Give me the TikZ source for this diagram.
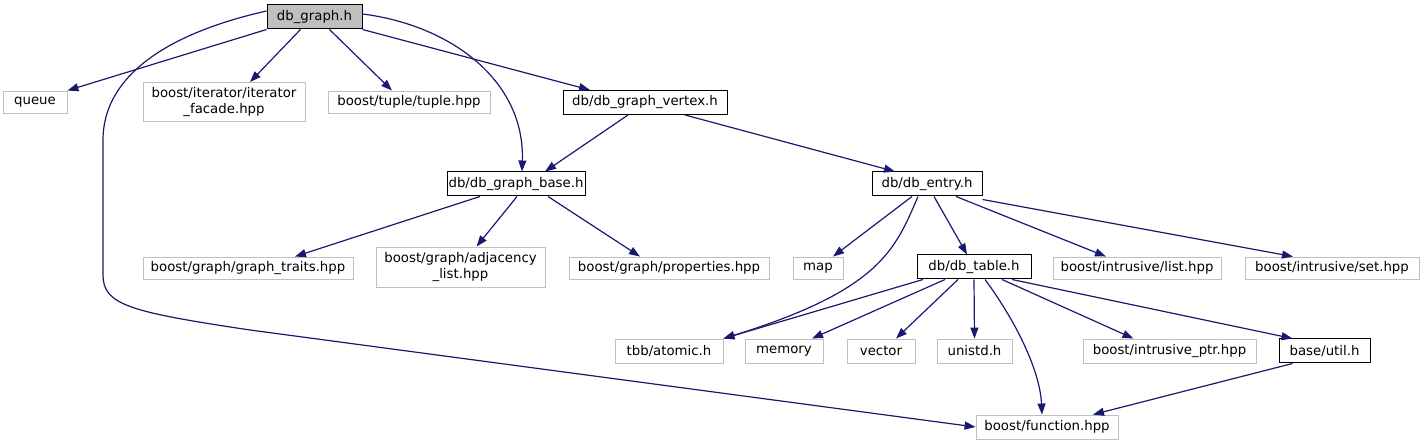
\documentclass[tikz,border=0pt]{standalone}
\usepackage{fontspec}
\setmainfont{DejaVu Sans}
\usetikzlibrary{arrows.meta}
\definecolor{edgeblue}{HTML}{191970}
\definecolor{boxgray}{HTML}{BFBFBF}
\tikzset{
  inc/.style={draw=boxgray,line width=0.9pt,inner sep=0pt,minimum height=22pt,
    align=center,font=\fontsize{13.3}{15.5}\selectfont},
  own/.style={inc,draw=black,line width=1pt,minimum height=24pt},
  dep/.style={draw=edgeblue,line width=1.2pt,-{Triangle[length=11pt,width=8pt]}}
}
\begin{document}
\begin{tikzpicture}[x=1pt,y=-1pt]
 \useasboundingbox (0,0) rectangle (1424,443);
 % files
 \node[own,fill=boxgray,minimum width=95pt] (graph) at (314.5,17) {db\_graph.h};
 \node[inc,minimum width=64pt] (queue) at (35,102) {queue};
 \node[inc,minimum width=162pt,minimum height=39pt] (facade) at (224,102) {boost/iterator/iterator\\\_facade.hpp};
 \node[inc,minimum width=162pt] (tuple) at (409,102) {boost/tuple/tuple.hpp};
 \node[own,minimum width=164pt] (vertex) at (645,102.5) {db/db\_graph\_vertex.h};
 \node[own,minimum width=138pt] (base) at (516,184) {db/db\_graph\_base.h};
 \node[own,minimum width=110pt] (entry) at (927,184) {db/db\_entry.h};
 \node[inc,minimum width=210pt] (traits) at (248,268) {boost/graph/graph\_traits.hpp};
 \node[inc,minimum width=169pt,minimum height=40pt] (adjlist) at (460.5,267) {boost/graph/adjacency\\\_list.hpp};
 \node[inc,minimum width=200pt] (props) at (669,268) {boost/graph/properties.hpp};
 \node[inc,minimum width=50pt] (map) at (818,268) {map};
 \node[own,minimum width=114pt] (table) at (974,267) {db/db\_table.h};
 \node[inc,minimum width=168pt] (ilist) at (1137,268) {boost/intrusive/list.hpp};
 \node[inc,minimum width=174pt] (iset) at (1332,268) {boost/intrusive/set.hpp};
 \node[inc,minimum width=108pt,minimum height=24pt] (atomic) at (669,351) {tbb/atomic.h};
 \node[inc,minimum width=78pt,minimum height=24pt] (memory) at (784,351) {memory};
 \node[inc,minimum width=68pt,minimum height=24pt] (vector) at (881,351) {vector};
 \node[inc,minimum width=75pt,minimum height=24pt] (unistd) at (974.5,351) {unistd.h};
 \node[inc,minimum width=173pt,minimum height=24pt] (iptr) at (1169.5,351) {boost/intrusive\_ptr.hpp};
 \node[own,minimum width=91pt] (util) at (1324.5,351) {base/util.h};
 \node[inc,minimum width=142pt,minimum height=24pt] (function) at (1047,427) {boost/function.hpp};
 % includes of db_graph.h
 \draw[dep] (graph.south west) -- (queue.north east);
 \draw[dep] ([xshift=-14pt]graph.south) -- ([xshift=26pt]facade.north);
 \draw[dep] ([xshift=15pt]graph.south) -- ([xshift=-17pt]tuple.north);
 \draw[dep] (graph.south east) -- ([xshift=-55pt]vertex.north);
 \draw[dep] ([yshift=3pt]graph.east) .. controls (450,25) and (525,80) .. ([xshift=6pt]base.north);
 \draw[dep] ([yshift=6pt]graph.west) .. controls (160,35) and (103,80) .. (103,140)
   -- (103,275) .. controls (103,305) and (130,312) .. (250,330) -- (function.west);
 % vertex and base
 \draw[dep] ([xshift=-17pt]vertex.south) -- ([xshift=29pt]base.north);
 \draw[dep] ([xshift=40pt]vertex.south) -- ([xshift=-32pt]entry.north);
 \draw[dep] ([xshift=-36pt]base.south) -- ([xshift=47pt]traits.north);
 \draw[dep] ([xshift=1pt]base.south) -- ([xshift=16pt]adjlist.north);
 \draw[dep] ([xshift=32pt]base.south) -- ([xshift=-29pt]props.north);
 % entry
 \draw[dep] ([xshift=-15pt]entry.south) -- ([xshift=15pt]map.north);
 \draw[dep] ([xshift=-9pt]entry.south) .. controls (895,250) and (880,290) .. (atomic.north east);
 \draw[dep] ([xshift=7pt]entry.south) -- ([xshift=-7pt]table.north);
 \draw[dep] ([xshift=29pt]entry.south) -- ([xshift=-31pt]ilist.north);
 \draw[dep] ([yshift=-3pt]entry.south east) -- ([xshift=-39pt]iset.north);
 % table
 \draw[dep] ([xshift=-51pt]table.south) -- (atomic.north east);
 \draw[dep] ([xshift=-29pt]table.south) -- ([xshift=28pt]memory.north);
 \draw[dep] ([xshift=-16pt]table.south) -- ([xshift=15pt]vector.north);
 \draw[dep] (table.south) -- (unistd.north);
 \draw[dep] ([xshift=28pt]table.south) -- ([xshift=-36pt]iptr.north);
 \draw[dep] ([xshift=38pt]table.south) -- ([xshift=-32pt]util.north);
 \draw[dep] ([xshift=11pt]table.south) .. controls (1015,320) and (1040,370) .. ([xshift=-5pt]function.north);
 \draw[dep] ([xshift=-32pt]util.south) -- ([xshift=46pt]function.north);
\end{tikzpicture}
\end{document}
